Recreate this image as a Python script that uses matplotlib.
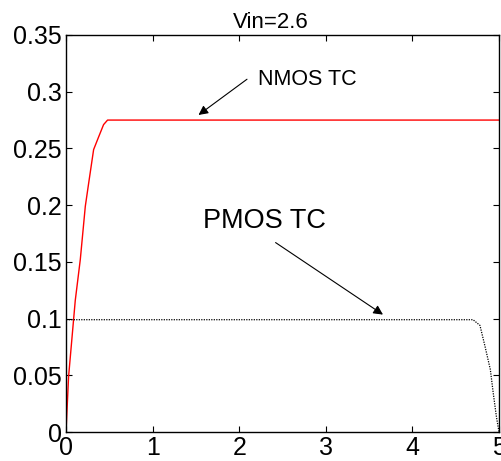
import matplotlib
matplotlib.use("Agg")
from matplotlib import pyplot as plt

# NMOS transfer curve (red, solid)
nmos_x = [0.0, 0.03, 0.107, 0.165, 0.223, 0.261, 0.319, 0.376, 0.434, 0.48, 5.0]
nmos_y = [0.0, 0.049, 0.116, 0.152, 0.199, 0.219, 0.249, 0.260, 0.271, 0.275, 0.275]

# PMOS transfer curve (black, dotted)
pmos_x = [0.0, 0.0, 4.70, 4.78, 4.84, 4.90, 4.934, 4.97, 5.0]
pmos_y = [0.0, 0.099, 0.099, 0.094, 0.075, 0.055, 0.034, 0.0135, 0.0]

xticks = [0, 1, 2, 3, 4, 5]
yticks = [0, 0.05, 0.1, 0.15, 0.2, 0.25, 0.3, 0.35]
ytick_labels = ["0", "0.05", "0.1", "0.15", "0.2", "0.25", "0.3", "0.35"]

plt.rcParams["font.family"] = ["Liberation Sans", "DejaVu Sans"]

fig = plt.figure(figsize=(5.02, 4.61), dpi=100)
ax = fig.add_axes([66 / 502, 1 - 432 / 461, (499 - 66) / 502, (432 - 35) / 461])

ax.plot(nmos_x, nmos_y, color="red", lw=1.0)
ax.plot(pmos_x, pmos_y, color="black", lw=0.9, linestyle=(0, (1, 1)))

ax.set_xlim(0, 5)
ax.set_ylim(0, 0.35)
ax.set_xticks(xticks)
ax.set_xticklabels([str(t) for t in xticks])
ax.set_yticks(yticks)
ax.set_yticklabels(ytick_labels)
ax.tick_params(direction="in", top=True, right=True, length=4, width=0.8,
               labelsize=18)
ax.tick_params(axis="x", pad=3)
ax.tick_params(axis="y", pad=3)
for sp in ax.spines.values():
    sp.set_linewidth(1.0)

ax.set_title("Vin=2.6", fontsize=16, pad=5, x=0.473)

arrow = dict(arrowstyle="-|>", color="black", lw=0.8, mutation_scale=14,
             shrinkA=0, shrinkB=0)
ax.annotate("", xy=(1.53, 0.2795), xytext=(2.09, 0.311), arrowprops=arrow)
ax.text(2.215, 0.306, "NMOS TC", fontsize=15.5, va="baseline", ha="left")

ax.annotate("", xy=(3.66, 0.1035), xytext=(2.42, 0.167), arrowprops=arrow)
ax.text(1.584, 0.1796, "PMOS TC", fontsize=19.5, va="baseline", ha="left")

fig.savefig("out.png", dpi=100)
